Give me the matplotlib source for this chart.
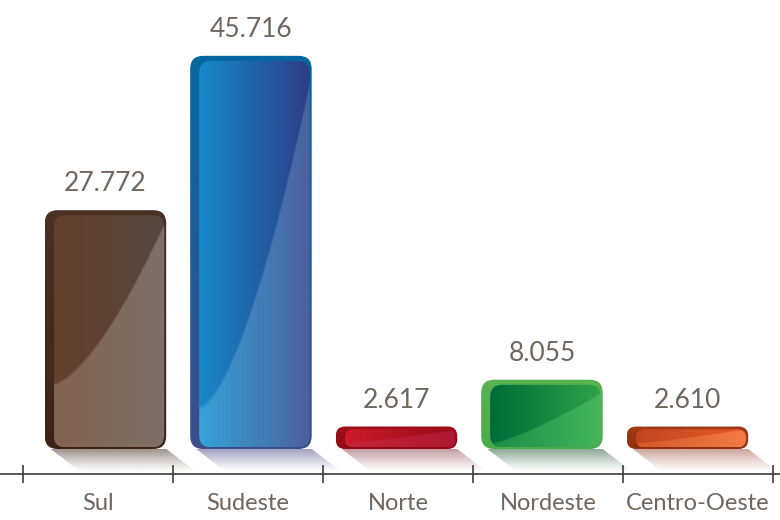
import numpy as np
import matplotlib
matplotlib.use("Agg")
import matplotlib.pyplot as plt
from matplotlib.patches import FancyBboxPatch, Polygon
from matplotlib.colors import to_rgb

regioes = ["Sul", "Sudeste", "Norte", "Nordeste", "Centro-Oeste"]
valores = [27.772, 45.716, 2.617, 8.055, 2.610]
rotulos = ["27.772", "45.716", "2.617", "8.055", "2.610"]

# cores de cada barra: borda (topo, base), escuro (esq, dir), claro (esq, dir), sombra
borda = [("#4a3326", "#3c2415"), ("#0568a0", "#3b4e8c"), ("#a20e18", "#8e0a14"),
         ("#58b452", "#4caa4a"), ("#a33a14", "#8f3010")]
escuro = [("#633e2b", "#564840"), ("#1789c9", "#2c3d86"), ("#cd1b28", "#940b19"),
          ("#006b38", "#32a24a"), ("#c1461f", "#e95a2a")]
claro = [("#826352", "#7d7068"), ("#36a4d7", "#4c5f9f"), ("#c52338", "#ad1832"),
         ("#1c8c48", "#46b55b"), ("#d4582c", "#f27a45")]
sombra = ["#9e928c", "#a0a0c0", "#c49ca2", "#8ea896", "#cfa59e"]
# curva do reflexo: v esquerda, v direita, expoente
reflexo = [(0.73, 0.04, 1.5), (0.9, 0.06, 1.6), (0.8, 0.1, 1.3),
           (0.95, 0.15, 1.3), (0.8, 0.05, 1.3)]

cor_texto = "#70665d"
plt.rcParams['font.family'] = ['Lato', 'DejaVu Sans']

px_x = 150.0   # pixels por unidade em x
px_y = 8.6     # pixels por unidade em y
eixo_y = -25 / px_y

fig = plt.figure(figsize=(7.8, 5.2), dpi=100)
ax = fig.add_axes([0, 0, 1, 1])
ax.set_xlim(-0.653, 4.547)
ax.set_ylim(-71 / px_y, 449 / px_y)


def grad_img(cl, cr, h=200, w=200):
    u = np.linspace(0, 1, w)
    a = np.array(to_rgb(cl))
    b = np.array(to_rgb(cr))
    row = a[None, :] * (1 - u[:, None]) + b[None, :] * u[:, None]
    return np.repeat(row[None, :, :], h, axis=0)


def caixa(x0, y0, w, h, r_px):
    r = r_px / px_x
    return FancyBboxPatch((x0, y0), w, h,
                          boxstyle="round,pad=0,rounding_size=%f" % r,
                          mutation_aspect=px_x / px_y,
                          linewidth=0, facecolor="none")


largura = 0.81
for i, v in enumerate(valores):
    c = 0.05 + 0.97 * i
    x0 = c - largura / 2
    x1 = c + largura / 2
    h_px = v * px_y
    r_px = min(13, h_px * 0.42)

    # sombra
    desl = 30 / px_x
    sx0 = x0 + 6 / px_x
    sy1 = eixo_y + 2 / px_y
    poly = Polygon([(sx0, 0), (x1, 0), (x1 + desl, sy1), (sx0 + desl, sy1)],
                   closed=True, facecolor="none", edgecolor="none")
    ax.add_patch(poly)
    sc = np.array(to_rgb(sombra[i]))
    al = (1 - np.linspace(0, 1, 60)) ** 1.2
    simg = np.zeros((60, 2, 4))
    simg[:, :, :3] = sc
    simg[:, :, 3] = al[:, None]
    im = ax.imshow(simg, extent=[sx0, x1 + desl, sy1, 0], aspect="auto",
                   interpolation="bilinear", zorder=1)
    im.set_clip_path(poly)

    # caixa externa (borda)
    ext = caixa(x0, 0, largura, v, r_px)
    ax.add_patch(ext)
    t = np.array(to_rgb(borda[i][0]))
    b = np.array(to_rgb(borda[i][1]))
    vv = np.linspace(0, 1, 100)[:, None]
    col = t[None, :] * (1 - vv) + b[None, :] * vv
    eimg = np.repeat(col[:, None, :], 4, axis=1)
    im = ax.imshow(eimg, extent=[x0, x1, 0, v], aspect="auto",
                   interpolation="bilinear", zorder=2)
    im.set_clip_path(ext)

    # caixa interna com gradiente e reflexo
    ix0 = x0 + 9 / px_x
    ix1 = x1 - 2 / px_x
    iy0 = 1.5 / px_y
    iy1 = v - min(5, h_px * 0.12) / px_y
    inn = caixa(ix0, iy0, ix1 - ix0, iy1 - iy0, r_px * 0.95)
    ax.add_patch(inn)
    H, W = 300, 200
    d = grad_img(*escuro[i], h=H, w=W)
    l = grad_img(*claro[i], h=H, w=W)
    uu = np.linspace(0, 1, W)[None, :]
    vv = np.linspace(0, 1, H)[:, None]
    vl, vr, p = reflexo[i]
    borda_v = vl - (vl - vr) * uu ** p
    m = np.clip((vv - borda_v) * 60 + 0.5, 0, 1)[:, :, None]
    img = d * (1 - m) + l * m
    im = ax.imshow(img, extent=[ix0, ix1, iy0, iy1], aspect="auto",
                   interpolation="bilinear", zorder=3)
    im.set_clip_path(inn)

    ax.annotate(rotulos[i], (c, v), xytext=(0, 10), textcoords="offset points",
                ha="center", va="bottom", fontsize=19, color=cor_texto)

# eixo
for s in ["top", "right", "left"]:
    ax.spines[s].set_visible(False)
ax.spines["bottom"].set_position(("data", eixo_y))
ax.spines["bottom"].set_color("#3c3c3c")
ax.spines["bottom"].set_linewidth(1.2)
ax.spines["bottom"].set_zorder(5)
ax.set_xticks(range(len(regioes)))
ax.set_xticklabels(regioes, fontsize=17, color=cor_texto)
ax.set_xticks(np.arange(-0.5, 5, 1), minor=True)
ax.tick_params(axis="x", which="major", length=0, pad=14)
ax.tick_params(axis="x", which="minor", direction="inout", length=13,
               width=1.2, color="#3c3c3c")
ax.set_yticks([])
ax.patch.set_visible(False)

fig.savefig("out.png", dpi=100)
